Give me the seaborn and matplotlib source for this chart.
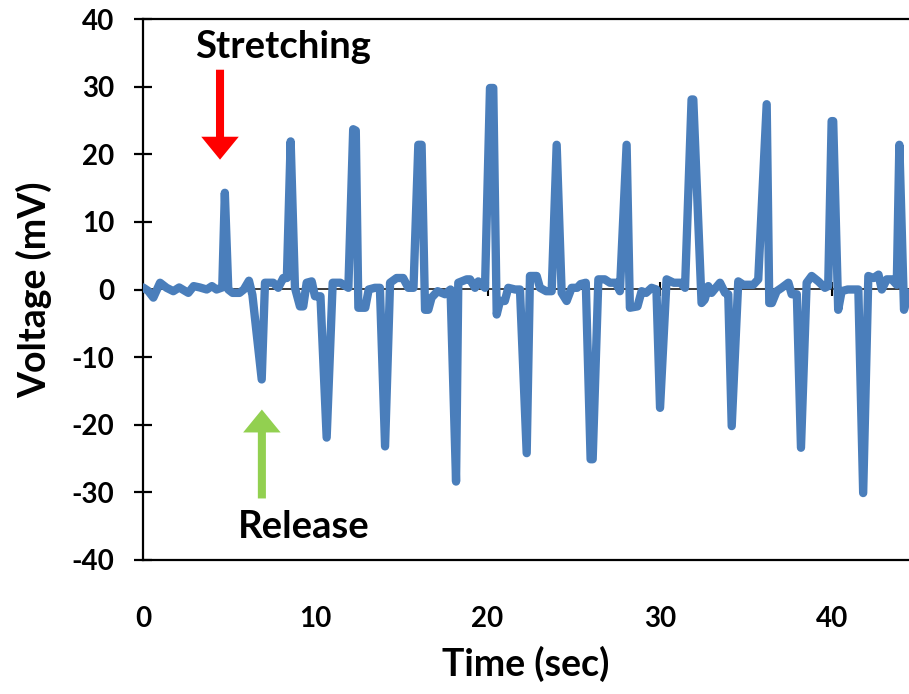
import matplotlib
matplotlib.use("Agg")
import matplotlib.pyplot as plt
import seaborn as sns
import pandas as pd

# Sensor voltage trace during repeated stretch / release cycles
time_s = [
    0.0, 0.3, 0.6, 0.99, 1.37, 1.76, 2.1, 2.63, 2.94, 3.3, 3.7, 4.0, 4.27, 4.6,
    4.75, 4.95, 5.2, 5.6, 5.85, 6.15, 6.35, 6.89, 7.08, 7.56, 7.85, 8.14, 8.35,
    8.57, 8.82, 9.11, 9.3, 9.5, 9.79, 9.98, 10.3, 10.66, 11.01, 11.45, 11.92,
    12.2, 12.35, 12.5, 12.9, 13.1, 13.46, 13.75, 14.05, 14.34, 14.72, 15.1,
    15.4, 15.7, 15.98, 16.17, 16.37, 16.56, 16.75, 17.1, 17.53, 17.85, 18.17,
    18.3, 18.79, 18.98, 19.27, 19.46, 19.85, 20.14, 20.33, 20.53, 20.72, 21.0,
    21.2, 21.6, 21.88, 22.27, 22.46, 22.85, 23.04, 23.4, 23.72, 24.01, 24.3,
    24.59, 24.88, 25.2, 25.4, 25.7, 25.98, 26.1, 26.43, 26.8, 27.1, 27.45,
    27.68, 28.07, 28.26, 28.7, 28.94, 29.2, 29.52, 29.8, 30.01, 30.39, 30.8,
    31.2, 31.46, 31.84, 31.94, 32.42, 32.6, 32.81, 33.0, 33.49, 33.78, 33.97,
    34.17, 34.55, 34.85, 35.42, 35.71, 36.2, 36.35, 36.5, 36.78, 37.07, 37.46,
    37.65, 37.95, 38.19, 38.52, 38.81, 39.2, 39.58, 39.77, 39.97, 40.06, 40.35,
    40.55, 40.9, 41.52, 41.8, 42.1, 42.4, 42.69, 42.88, 43.17, 43.46, 43.75,
    43.9, 44.17, 44.4,
]
voltage_mv = [
    0.3, -0.2, -1.2, 1.0, 0.25, -0.25, 0.3, -0.5, 0.5, 0.3, 0.0, 0.5, 0.0, 0.3,
    14.3, 0.0, -0.5, -0.5, 0.0, 1.3, -0.8, -13.3, 1.0, 1.0, 0.25, 1.7, 1.7,
    21.9, 0.25, -2.5, -2.5, 1.0, 1.2, -1.0, -1.0, -21.9, 1.0, 1.0, 0.25,
    23.7, 23.5, -2.7, -2.7, 0.0, 0.25, 0.25, -23.2, 1.0, 1.7, 1.7,
    0.25, 0.25, 21.4, 21.4, -3.0, -3.0, -1.2, -0.25, -0.7, 0.0, -28.4,
    1.0, 1.5, 1.5, 0.25, 1.2, 0.25, 29.8, 29.8, -3.7, -1.7, -1.7,
    0.25, 0.0, 0.0, -24.2, 2.0, 2.0, 0.25, -0.25, -0.25, 21.4, -0.5,
    -1.7, 0.25, 0.25, 0.8, 1.0, -25.1, -25.1, 1.5, 1.5, 1.0, 1.0,
    -0.25, 21.4, -2.7, -2.5, -0.25, -0.5, 0.25, 0.0, -17.5, 1.5, 1.0,
    1.0, 0.25, 28.1, 28.1, -2.0, -1.5, 0.5, -0.5, 1.0, -0.5, -0.7,
    -20.2, 1.2, 0.7, 0.7, 1.5, 27.4, -2.0, -2.0, -0.25, 0.25, 1.0,
    -0.7, -0.7, -23.4, 1.0, 2.0, 1.2, 0.25, 0.5, 24.9, 24.9, -3.0,
    -0.25, 0.0, 0.0, -30.1, 2.0, 1.7, 2.2, 0.0, 1.5, 1.5, 0.7,
    21.4, -3.0, -0.5,
]
x_ticks = [0, 10, 20, 30, 40]
y_ticks = [-40, -30, -20, -10, 0, 10, 20, 30, 40]

df = pd.DataFrame({"Time (sec)": time_s, "Voltage (mV)": voltage_mv})

sns.set_theme(style="white")
plt.rcParams["font.family"] = ["Lato", "DejaVu Sans"]
plt.rcParams["font.weight"] = "bold"
plt.rcParams["axes.unicode_minus"] = False
plt.rcParams["text.color"] = "black"
plt.rcParams["axes.labelcolor"] = "black"
plt.rcParams["xtick.color"] = "black"
plt.rcParams["ytick.color"] = "black"

fig = plt.figure(figsize=(9.09, 6.94), dpi=100)
ax = fig.add_axes([143 / 909, 134 / 694, 1 - 143 / 909, (675 - 134) / 694])

# zero axis line with cross ticks, drawn beneath the trace
zero_axis = ax.secondary_xaxis(0.5)
zero_axis.set_xticks(x_ticks[1:])
zero_axis.tick_params(axis="x", direction="inout", length=10, width=1.5,
                      color="black", labelbottom=False, labeltop=False)
zero_axis.spines["bottom"].set_linewidth(1.6)
zero_axis.spines["bottom"].set_color("black")
zero_axis.set_zorder(0.5)

sns.lineplot(data=df, x="Time (sec)", y="Voltage (mV)", sort=False,
             estimator=None, color="#4a7ebb", linewidth=6,
             solid_joinstyle="round", solid_capstyle="round", ax=ax, zorder=3)

ax.set_xlim(0, 44.46)
ax.set_ylim(-40, 40)
ax.set_xticks(x_ticks)
ax.set_yticks(y_ticks)
ax.tick_params(axis="x", length=0, pad=33, labelsize=20, labelcolor="black")
ax.tick_params(axis="y", direction="inout", length=13, width=1.6,
               color="black", pad=14, labelsize=20, left=True,
               labelcolor="black")
for lab in ax.get_xticklabels() + ax.get_yticklabels():
    lab.set_fontweight("bold")

for side in ("left", "top", "bottom"):
    ax.spines[side].set_color("black")
    ax.spines[side].set_linewidth(1.6)
ax.spines["right"].set_visible(False)

ax.set_xlabel("Time (sec)", fontsize=27, fontweight="bold", labelpad=10,
              color="black")
ax.set_ylabel("Voltage (mV)", fontsize=27, fontweight="bold", labelpad=14,
              color="black")

# stretch / release markers
arrow_style = "simple,head_length=16.5,head_width=27,tail_width=5.8"
ax.annotate("", xy=(4.47, 19.2), xytext=(4.47, 32.5),
            arrowprops=dict(arrowstyle=arrow_style, mutation_scale=1,
                            color="#ff0000", lw=0, shrinkA=0, shrinkB=0))
ax.text(8.15, 35.8, "Stretching", ha="center", va="center",
        fontsize=27.5, fontweight="bold", color="black")

ax.annotate("", xy=(6.9, -17.75), xytext=(6.9, -30.9),
            arrowprops=dict(arrowstyle=arrow_style, mutation_scale=1,
                            color="#92d050", lw=0, shrinkA=0, shrinkB=0))
ax.text(9.35, -35.1, "Release", ha="center", va="center",
        fontsize=27.5, fontweight="bold", color="black")

fig.savefig("out.png", dpi=100)
